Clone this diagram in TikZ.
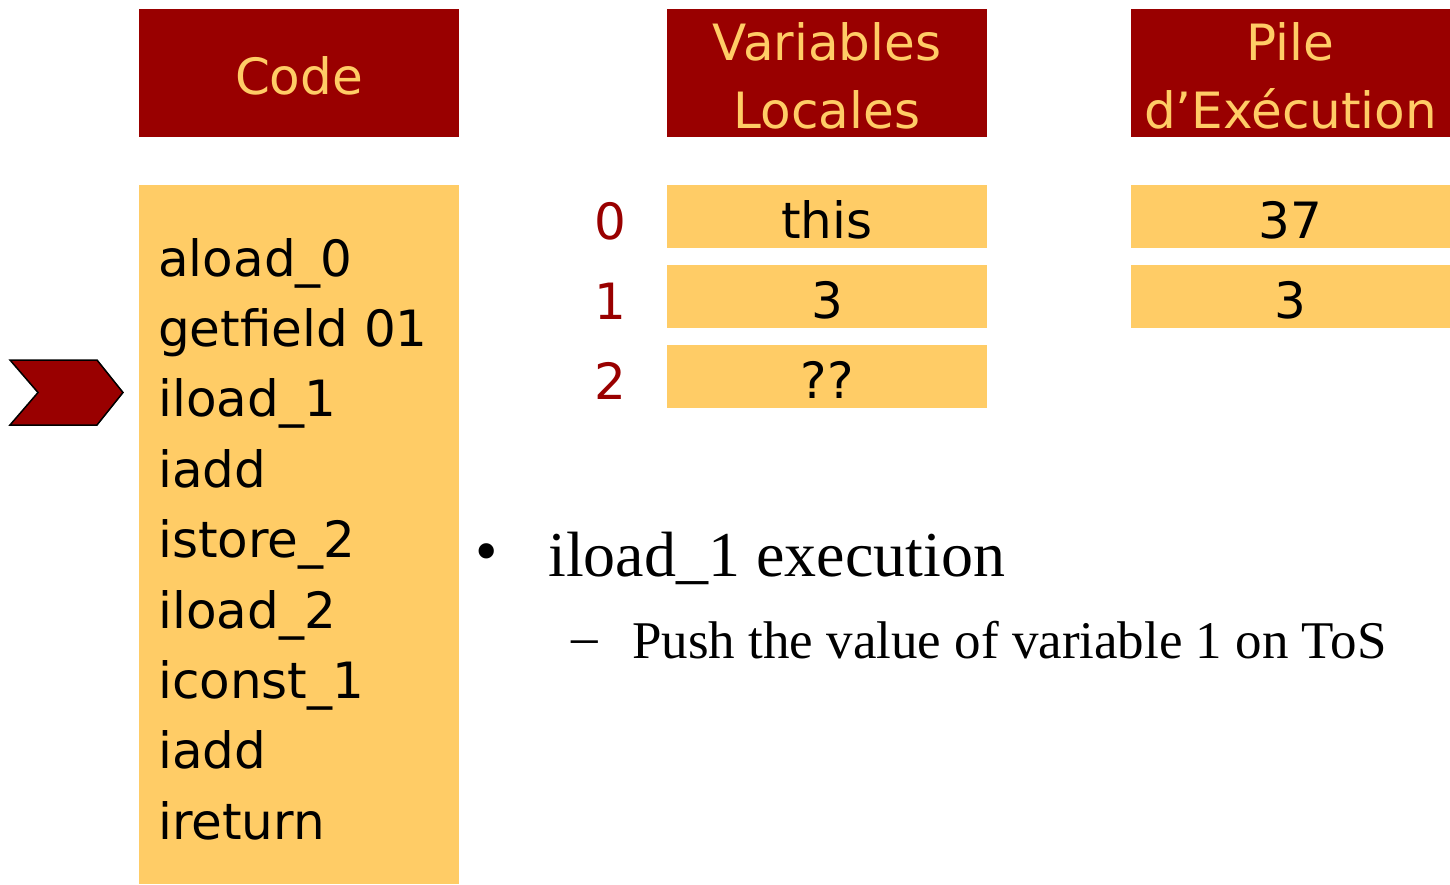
\documentclass[tikz,border=0pt]{standalone}
\usepackage{fontspec}
\usepackage{tikz}
\newfontfamily\verd{DejaVu Sans}
\newfontfamily\tms{Liberation Serif}
\definecolor{darkred}{HTML}{990000}
\definecolor{gold}{HTML}{FFCC66}

\tikzset{
  hdr/.style={fill=darkred, text=gold, minimum width=320pt, minimum height=128pt,
    inner sep=0pt, align=center, font=\verd\fontsize{50}{68}\selectfont},
  cell/.style={fill=gold, minimum width=320pt, minimum height=63pt, inner sep=0pt,
    font=\verd\fontsize{50}{60}\selectfont},
  idx/.style={text=darkred, font=\verd\fontsize{50}{60}\selectfont},
}

\begin{document}
\begin{tikzpicture}[x=1pt, y=-1pt]
  \useasboundingbox (0,0) rectangle (1450,884);

  % headers
  \node[hdr] (hcode) at (299,73) {};
  \node[text=gold, font=\verd\fontsize{50}{68}\selectfont] (tcode) at (299,76) {Code};
  \node[hdr] (hvar) at (827,73) {};
  \node[text=gold, align=center, font=\verd\fontsize{50}{68}\selectfont] (tvar) at (827,76) {Variables\\Locales};
  \node[hdr] (hpile) at (1290.5,73) {};
  \node[text=gold, align=center, font=\verd\fontsize{50}{68}\selectfont] (tpile) at (1290.5,76) {Pile\\d’Exécution};

  % code area
  \path[fill=gold] (139,185) rectangle (459,884);
  \node[anchor=west, align=left, inner sep=0pt, font=\verd\fontsize{50}{70.4}\selectfont]
    (prog) at (158,539) {aload\_0\\getfield 01\\iload\_1\\iadd\\istore\_2\\iload\_2\\iconst\_1\\iadd\\ireturn};

  % current instruction
  \draw[fill=darkred, line width=1.5pt, line join=miter]
    (10,360) -- (97,360) -- (123,392.5) -- (97,425) -- (10,425) -- (38,392.5) -- cycle;

  % local variables
  \foreach \i/\v in {0/this, 1/3, 2/??}
  {
    \node[cell] (var\i) at (827, 216.5+80*\i) {};
    \node[font=\verd\fontsize{50}{60}\selectfont] (val\i) at (827, 220+80*\i) {\v};
    \node[idx] (idx\i) at (610, 221+80*\i) {\i};
  }

  % stack
  \node[cell] (top) at (1290.5,216.5) {};
  \node[font=\verd\fontsize{50}{60}\selectfont] (vtop) at (1290.5,220) {37};
  \node[cell] (below) at (1290.5,296.5) {};
  \node[font=\verd\fontsize{50}{60}\selectfont] (vbelow) at (1290.5,300) {3};

  % comment
  \node[font=\tms\fontsize{64}{70}\selectfont] (bul) at (487,558) {•};
  \node[anchor=west, inner sep=0pt, font=\tms\fontsize{64}{70}\selectfont] (exe) at (548,558) {iload\_1 execution};
  \node[font=\tms\fontsize{53}{60}\selectfont] (dash) at (585,648) {–};
  \node[anchor=west, inner sep=0pt, font=\tms\fontsize{53}{60}\selectfont] (push) at (632,640) {Push the value of variable 1 on ToS};
\end{tikzpicture}
\end{document}
